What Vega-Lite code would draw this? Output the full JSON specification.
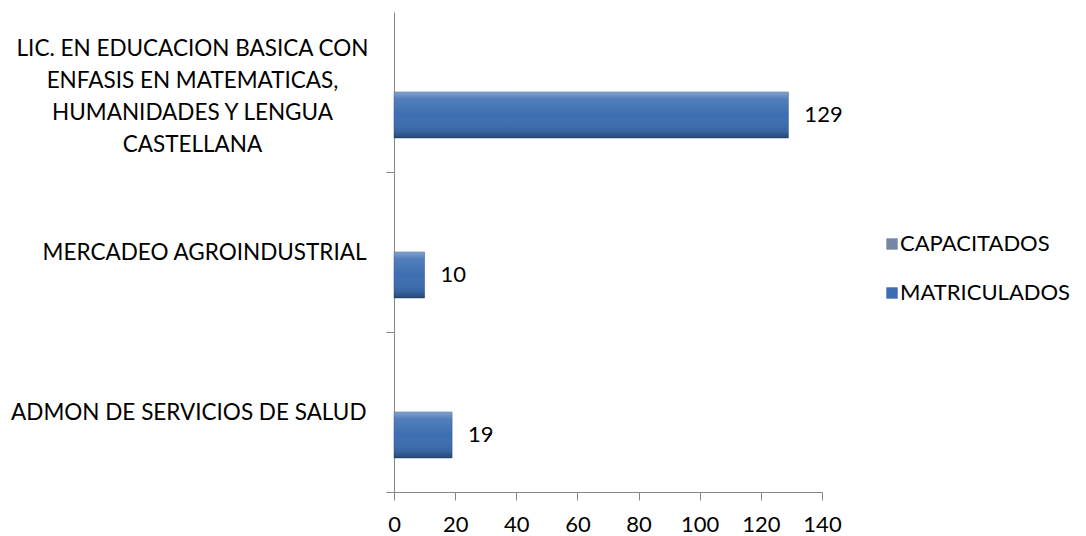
{
  "$schema": "https://vega.github.io/schema/vega-lite/v6.json",
  "width": 428,
  "height": 480,
  "autosize": {"type": "none"},
  "padding": {"left": 394, "top": 12, "right": 264, "bottom": 44},
  "background": "white",
  "config": {"view": {"stroke": null}, "font": "Lato"},
  "data": {
    "values": [
      {"programa": "LIC. EN EDUCACION BASICA CON|ENFASIS EN MATEMATICAS,|HUMANIDADES Y LENGUA|CASTELLANA", "serie": "CAPACITADOS", "valor": null},
      {"programa": "LIC. EN EDUCACION BASICA CON|ENFASIS EN MATEMATICAS,|HUMANIDADES Y LENGUA|CASTELLANA", "serie": "MATRICULADOS", "valor": 129},
      {"programa": "MERCADEO AGROINDUSTRIAL", "serie": "CAPACITADOS", "valor": null},
      {"programa": "MERCADEO AGROINDUSTRIAL", "serie": "MATRICULADOS", "valor": 10},
      {"programa": "ADMON DE SERVICIOS DE SALUD", "serie": "CAPACITADOS", "valor": null},
      {"programa": "ADMON DE SERVICIOS DE SALUD", "serie": "MATRICULADOS", "valor": 19}
    ]
  },
  "encoding": {
    "y": {
      "field": "programa",
      "type": "nominal",
      "sort": null,
      "title": null,
      "scale": {"paddingInner": 0.425, "paddingOuter": 0.2125},
      "axis": {
        "labelExpr": "split(datum.label, '|')",
        "labelFontSize": 22.5,
        "labelColor": "#000000",
        "labelLineHeight": 32,
        "labelLimit": 500,
        "labelAlign": {"condition": {"test": "indexof(datum.value, 'LIC') == 0", "value": "center"}, "value": "right"},
        "labelPadding": {"condition": {"test": "indexof(datum.value, 'LIC') == 0", "value": 194}, "value": 20},
        "labelOffset": {"condition": {"test": "indexof(datum.value, 'LIC') == 0", "value": -124}, "value": -80},
        "tickOffset": 80,
        "tickSize": 8,
        "tickColor": "#868686",
        "domainColor": "#868686",
        "grid": false
      }
    },
    "yOffset": {
      "field": "serie",
      "type": "nominal",
      "scale": {"domain": ["CAPACITADOS", "MATRICULADOS"]}
    },
    "x": {
      "field": "valor",
      "type": "quantitative",
      "title": null,
      "scale": {"domain": [0, 140], "nice": false},
      "axis": {
        "values": [0, 20, 40, 60, 80, 100, 120, 140],
        "labelFontSize": 22,
        "labelColor": "#000000",
        "labelPadding": 14,
        "labelFlush": false,
        "tickSize": 8,
        "tickColor": "#868686",
        "domainColor": "#868686",
        "grid": false
      }
    }
  },
  "layer": [
    {
      "mark": {"type": "bar", "stroke": "#2a4f80", "strokeWidth": 0.5},
      "encoding": {
        "color": {
          "field": "serie",
          "type": "nominal",
          "scale": {
            "domain": ["CAPACITADOS", "MATRICULADOS"],
            "range": ["#7587a6", "#3c6eb1"]
          },
          "legend": {
            "title": null,
            "orient": "none",
            "legendX": 487,
            "legendY": 221,
            "symbolType": "square",
            "symbolSize": 130,
            "symbolStrokeWidth": 0,
            "labelFontSize": 22,
            "labelColor": "#000000",
            "labelOffset": -3,
            "rowPadding": 27,
            "labelLimit": 300
          }
        }
      }
    },
    {
      "mark": {
        "type": "bar",
        "fill": {"gradient": "linear", "x1": 0, "y1": 0, "x2": 0, "y2": 1, "stops": [
          {"offset": 0, "color": "rgba(255,255,255,0.35)"},
          {"offset": 0.15, "color": "rgba(255,255,255,0.12)"},
          {"offset": 0.5, "color": "rgba(255,255,255,0)"},
          {"offset": 0.85, "color": "rgba(0,0,0,0.08)"},
          {"offset": 1, "color": "rgba(0,0,0,0.35)"}
        ]}
      },
      "encoding": {}
    },
    {
      "mark": {"type": "text", "align": "left", "baseline": "middle", "dx": 16, "fontSize": 22, "color": "#000000"},
      "transform": [{"filter": "isValid(datum.valor)"}],
      "encoding": {
        "text": {"field": "valor", "type": "quantitative"}
      }
    }
  ]
}
